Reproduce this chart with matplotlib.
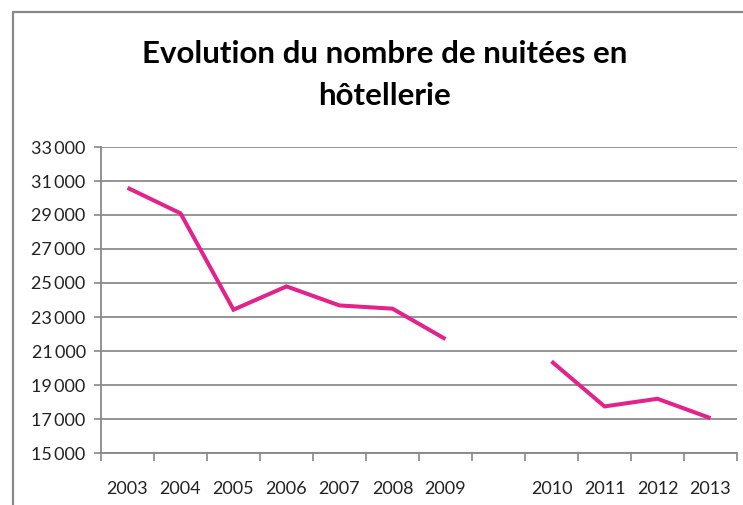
import matplotlib
matplotlib.use("Agg")
import matplotlib.pyplot as plt
from matplotlib.lines import Line2D
from matplotlib.ticker import FuncFormatter
import numpy as np

plt.rcParams['font.family'] = ['Lato', 'DejaVu Sans']

years = ['2003', '2004', '2005', '2006', '2007', '2008', '2009', '',
         '2010', '2011', '2012', '2013']
nights = [30600, 29100, 23430, 24800, 23680, 23490, 21700, None,
          20390, 17740, 18190, 17050]
title = "Evolution du nombre de nuitées en\nhôtellerie"

fig = plt.figure(figsize=(7.43, 5.05), dpi=100)
ax = fig.add_axes([101/743, 52/505, 636/743, 306/505])

x = np.arange(len(years))
y = np.array([np.nan if v is None else v for v in nights], dtype=float)
ax.plot(x, y, color='#E2238C', lw=2.9, solid_capstyle='butt', solid_joinstyle='miter')

ax.set_xlim(-0.5, len(years) - 0.5)
ax.set_ylim(15000, 33000)
ax.set_yticks(np.arange(15000, 33001, 2000))
ax.yaxis.set_major_formatter(FuncFormatter(lambda v, p: f"{int(v):,}".replace(',', '\u2009')))
ax.set_xticks(x)
ax.set_xticklabels(years)
ax.set_xticks(np.arange(-0.5, len(years), 1.0), minor=True)
ax.tick_params(axis='x', which='major', length=0, pad=20, labelsize=13, labelcolor='#222222')
ax.tick_params(axis='x', which='minor', length=6, width=1.2, color='#888888', direction='out')
ax.tick_params(axis='y', length=5, width=1.2, color='#888888', labelsize=13, labelcolor='#222222', pad=6)

ax.grid(axis='y', color='#8c8c8c', lw=1.3)
ax.set_axisbelow(True)
for s in ['top', 'right']:
    ax.spines[s].set_visible(False)
for s in ['left', 'bottom']:
    ax.spines[s].set_color('#888888')
    ax.spines[s].set_linewidth(1.3)

fig.text(385/743, 1 - 75/505, title, ha='center', va='center', fontsize=22.5,
         fontweight='bold', linespacing=1.65, color='#000000')

fig.add_artist(Line2D([12.5/743, 12.5/743, 1.0], [0.0, 1 - 12/505, 1 - 12/505],
                      transform=fig.transFigure, color='#888888', lw=1.6))

fig.savefig('out.png', dpi=100)
